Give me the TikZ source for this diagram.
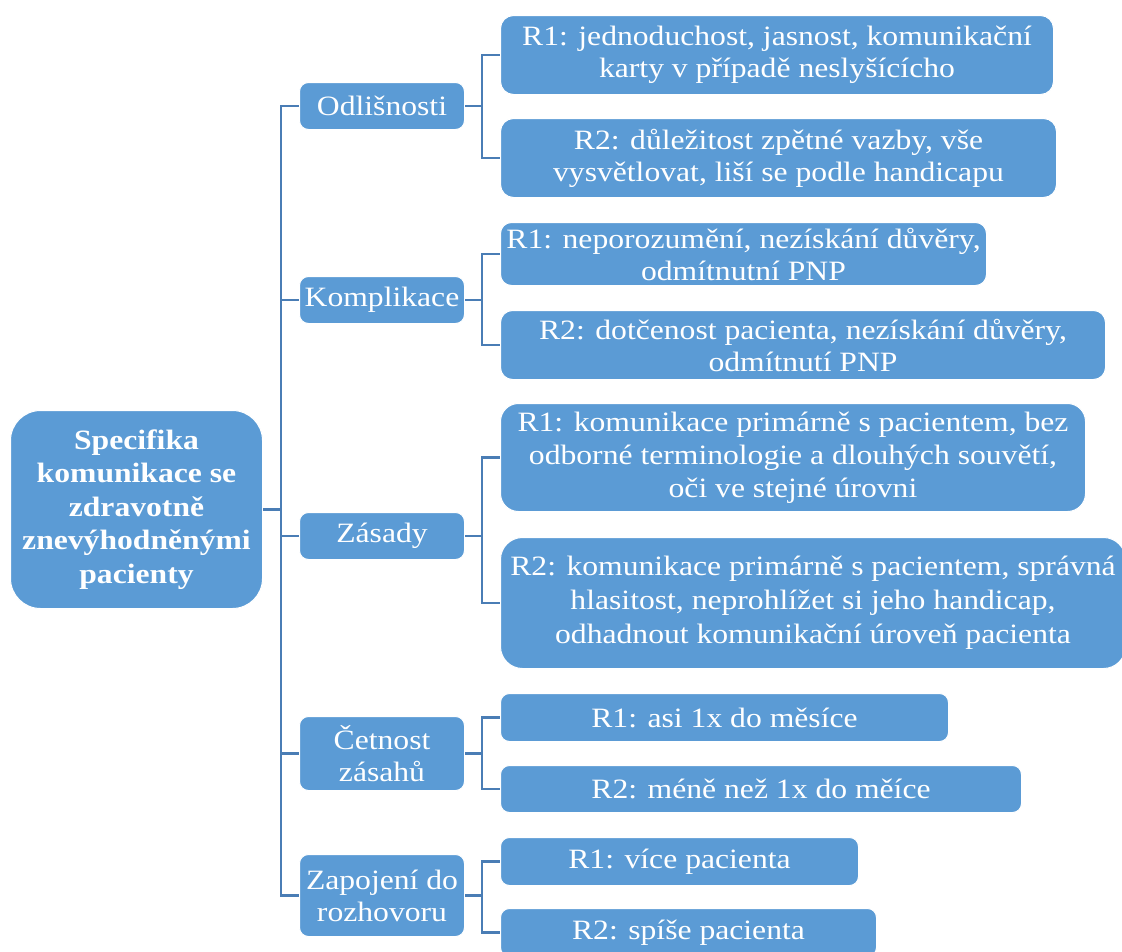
\documentclass[tikz,border=0pt]{standalone}
\usepackage{fontspec}
\setmainfont{Liberation Serif}[FakeStretch=1.13]
\usepackage{xcolor}
\usepackage{tikz}

\definecolor{boxblue}{HTML}{5B9BD5}
\definecolor{linkblue}{HTML}{4A7DB5}

\begin{document}
\begin{tikzpicture}[x=1pt, y=-1pt,
  box/.style={draw=white, line width=1pt, fill=boxblue, text=white, anchor=north west,
    inner sep=0pt, align=center, rounded corners=9pt, font=\fontsize{28}{32}\selectfont},
  link/.style={draw=linkblue, line width=2.5pt}]

\useasboundingbox (0,0) rectangle (1122,951);

\coordinate (trunk) at (281,0);
\coordinate (split) at (482,0);

% main topic
\node[box, minimum width=252pt, minimum height=198pt, rounded corners=30pt,
  font=\fontsize{28}{33.5}\selectfont\bfseries] (root) at (10,410)
  {Specifika\\komunikace se\\zdravotně\\znevýhodněnými\\pacienty};

% second level
\node[box, minimum width=165pt, minimum height=47pt] (odl) at (299,82) {Odlišnosti};
\node[box, minimum width=165pt, minimum height=47pt] (kom) at (299,276) {Komplikace};
\node[box, minimum width=165pt, minimum height=47pt] (zas) at (299,512) {Zásady};
\node[box, minimum width=165pt, minimum height=74pt] (cet) at (299,716) {Četnost\\zásahů};
\node[box, minimum width=165pt, minimum height=82pt] (zap) at (299,854) {Zapojení do\\rozhovoru};

% answers
\node[box, minimum width=553pt, minimum height=79pt, rounded corners=13pt] (odl1) at (500,15)
  {R1: jednoduchost, jasnost, komunikační\\karty v případě neslyšícícho};
\node[box, minimum width=556pt, minimum height=79pt, rounded corners=13pt] (odl2) at (500,118)
  {R2: důležitost zpětné vazby, vše\\vysvětlovat, liší se podle handicapu};
\node[box, minimum width=486pt, minimum height=63pt, rounded corners=11pt] (kom1) at (500,222)
  {R1: neporozumění, nezískání důvěry,\\odmítnutní PNP};
\node[box, minimum width=605pt, minimum height=69pt, rounded corners=12pt] (kom2) at (500,310)
  {R2: dotčenost pacienta, nezískání důvěry,\\odmítnutí PNP};
\node[box, minimum width=585pt, minimum height=108pt, rounded corners=18pt,
  font=\fontsize{28}{33}\selectfont] (zas1) at (500,403)
  {R1: komunikace primárně s pacientem, bez\\odborné terminologie a dlouhých souvětí,\\oči ve stejné úrovni};
\node[box, minimum width=625pt, minimum height=131pt, rounded corners=22pt,
  font=\fontsize{28}{34}\selectfont] (zas2) at (500,537)
  {R2: komunikace primárně s pacientem, správná\\hlasitost, neprohlížet si jeho handicap,\\odhadnout komunikační úroveň pacienta};
\node[box, minimum width=448pt, minimum height=48pt] (cet1) at (500,693) {R1: asi 1x do měsíce};
\node[box, minimum width=521pt, minimum height=47pt] (cet2) at (500,765) {R2: méně než 1x do měíce};
\node[box, minimum width=358pt, minimum height=48pt] (zap1) at (500,837) {R1: více pacienta};
\node[box, minimum width=376pt, minimum height=48pt] (zap2) at (500,908) {R2: spíše pacienta};

% connectors
\foreach \m in {odl,kom,zas,cet,zap} {
  \draw[link] (root.east) -- (trunk |- root.east) |- (\m.west);
  \draw[link] (\m.east) -- (split |- \m.east) |- (\m1.west);
  \draw[link] (split |- \m.east) |- (\m2.west);
}

\end{tikzpicture}
\end{document}
